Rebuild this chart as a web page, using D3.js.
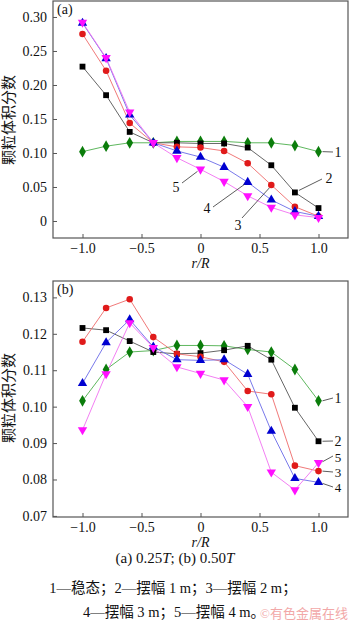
<!DOCTYPE html>
<html lang="zh">
<head>
<meta charset="utf-8">
<script src="https://d3js.org/d3.v7.min.js"></script>
<style>
  body { margin: 0; background: #fff; }
  text { font-family: "Liberation Serif", "Times New Roman", serif; fill: #111; }
  .cjk { font-family: "Liberation Serif", "Noto Sans CJK SC", serif; }
  .tick text { font-size: 14px; font-family: "Liberation Serif", serif; }
  .frame { fill: none; stroke: #555; stroke-width: 1.2; }
</style>
</head>
<body>
<div id="chart"></div>
<script>
// r/R positions
const rR = [-1.0, -0.8, -0.6, -0.4, -0.2, 0, 0.2, 0.4, 0.6, 0.8, 1.0];
const xTicks = [-1.0, -0.5, 0, 0.5, 1.0];

// panel (a) 0.25T
const a1 = [0.102, 0.110, 0.115, 0.115, 0.117, 0.117, 0.117, 0.115, 0.115, 0.111, 0.102];
const a2 = [0.227, 0.185, 0.131, 0.115, 0.115, 0.114, 0.114, 0.108, 0.082, 0.042, 0.019];
const a3 = [0.275, 0.221, 0.144, 0.115, 0.109, 0.108, 0.103, 0.085, 0.053, 0.021, 0.007];
const a4 = [0.291, 0.239, 0.156, 0.115, 0.103, 0.094, 0.079, 0.057, 0.031, 0.014, 0.007];
const a5 = [0.292, 0.240, 0.160, 0.115, 0.093, 0.076, 0.058, 0.037, 0.020, 0.009, 0.005];
const aTicks = [0, 0.05, 0.10, 0.15, 0.20, 0.25, 0.30];

// panel (b) 0.50T
const b1 = [0.1016, 0.1102, 0.1150, 0.1154, 0.1168, 0.1168, 0.1167, 0.1157, 0.1150, 0.1102, 0.1016];
const b2 = [0.1216, 0.1210, 0.1180, 0.1150, 0.1145, 0.1147, 0.1155, 0.1167, 0.1129, 0.0997, 0.0905];
const b3 = [0.1178, 0.1271, 0.1295, 0.1191, 0.1145, 0.1137, 0.1123, 0.1043, 0.1034, 0.0838, 0.0823];
const b4 = [0.1064, 0.1176, 0.1239, 0.1164, 0.1129, 0.1127, 0.1129, 0.1089, 0.0933, 0.0803, 0.0792];
const b5 = [0.0936, 0.1090, 0.1230, 0.1162, 0.1109, 0.1091, 0.1073, 0.1000, 0.0820, 0.0771, 0.0846];
const bTicks = [0.07, 0.08, 0.09, 0.10, 0.11, 0.12, 0.13];

const seriesNames = ["1", "2", "3", "4", "5"];

const W = 350, H = 623;
const svg = d3.select("#chart").append("svg")
  .attr("width", W).attr("height", H);

const styles = [
  { line: "#4caf4c", fill: "#0b7d0b", sym: d3.symbolDiamond, size: 40 },
  { line: "#555555", fill: "#000000", sym: d3.symbolSquare, size: 34 },
  { line: "#ee6a6a", fill: "#e01a1a", sym: d3.symbolCircle, size: 34 },
  { line: "#6a6ae8", fill: "#0000d0", sym: d3.symbolTriangle, size: 38 },
  { line: "#f070f0", fill: "#ff10ff", sym: d3.symbolTriangle, size: 38, rot: 180 }
];

function panel(opt) {
  const x = d3.scaleLinear().domain([-1.25, 1.25]).range([53, 348]);
  const y = d3.scaleLinear().domain(opt.yDomain).range([opt.bottom, opt.top]);
  const g = svg.append("g");

  // series lines
  opt.series.forEach((vals, i) => {
    const st = styles[i];
    const pts = rR.map((r, k) => [r, vals[k]]);
    g.append("path")
      .datum(pts)
      .attr("fill", "none")
      .attr("stroke", st.line)
      .attr("stroke-width", 0.9)
      .attr("d", d3.line().x(d => x(d[0])).y(d => y(d[1])));
  });
  // markers, 1..5 so later ones sit on top
  opt.series.forEach((vals, i) => {
    const st = styles[i];
    g.selectAll(null)
      .data(rR.map((r, k) => [r, vals[k]]))
      .enter().append("path")
      .attr("d", d3.symbol().type(st.sym).size(st.size))
      .attr("fill", st.fill)
      .attr("transform", d => `translate(${x(d[0])},${y(d[1])})` + (st.rot ? ` rotate(${st.rot})` : ""));
  });

  // frame
  g.append("rect").attr("class", "frame")
    .attr("x", 53).attr("y", opt.top)
    .attr("width", 295).attr("height", opt.bottom - opt.top);

  // axes, ticks pointing inwards
  const xAxis = g.append("g")
    .attr("transform", `translate(0,${opt.bottom})`)
    .call(d3.axisBottom(x).tickValues(xTicks).tickSizeInner(-4).tickSizeOuter(0)
      .tickPadding(5).tickFormat(d => d === 0 ? "0" : d3.format(".1f")(d).replace("-", "\u2212")));
  xAxis.attr("font-family", null).attr("font-size", null);
  xAxis.select(".domain").remove();
  xAxis.selectAll(".tick line").attr("stroke", "#555");

  const yAxis = g.append("g")
    .attr("transform", "translate(53,0)")
    .call(d3.axisLeft(y).tickValues(opt.yTicks).tickSizeInner(-4).tickSizeOuter(0)
      .tickPadding(6).tickFormat(opt.yFormat));
  yAxis.attr("font-family", null).attr("font-size", null);
  yAxis.select(".domain").remove();
  yAxis.selectAll(".tick line").attr("stroke", "#555");

  // r/R title
  g.append("text")
    .attr("x", x(0)).attr("y", opt.bottom + 30)
    .attr("text-anchor", "middle")
    .style("font-size", "14px").style("font-style", "italic")
    .text("r/R");

  // y title
  g.append("text").attr("class", "cjk")
    .attr("transform", `translate(14,${opt.yTitleY}) rotate(-90)`)
    .attr("text-anchor", "middle")
    .style("font-size", "15px")
    .text("颗粒体积分数");

  // panel letter
  g.append("text")
    .attr("x", 57).attr("y", opt.top + 13)
    .style("font-size", "14px")
    .text(opt.letter);

  // curve labels with leader lines
  opt.labels.forEach(l => {
    const px = x(l.r), py = y(opt.series[l.i][rR.indexOf(l.r)]);
    g.append("line")
      .attr("x1", px + l.dx1).attr("y1", py + l.dy1)
      .attr("x2", l.lx + l.ex).attr("y2", l.ly + l.ey)
      .attr("stroke", "#333").attr("stroke-width", 0.8);
    g.append("text")
      .attr("x", l.lx).attr("y", l.ly)
      .attr("text-anchor", "middle")
      .style("font-size", l.fs || "14px")
      .text(seriesNames[l.i]);
  });
}

panel({
  series: [a1, a2, a3, a4, a5],
  yDomain: [-0.025, 0.3235],
  top: 1, bottom: 238,
  yTicks: aTicks,
  yFormat: d => d === 0 ? "0" : d3.format(".2f")(d),
  yTitleY: 120,
  letter: "(a)",
  labels: [
    { i: 0, r: 1.0, dx1: 4, dy1: 0, lx: 338, ly: 157, ex: -5, ey: -5 },
    { i: 1, r: 0.8, dx1: 4, dy1: -2, lx: 329, ly: 183, ex: -7, ey: -4 },
    { i: 2, r: 0.6, dx1: -2, dy1: 3, lx: 238, ly: 230, ex: 4, ey: -12 },
    { i: 3, r: 0.4, dx1: -3, dy1: 2, lx: 207, ly: 213, ex: 6, ey: -6 },
    { i: 4, r: 0, dx1: -3, dy1: 2, lx: 176, ly: 192, ex: 6, ey: -9 }
  ]
});

panel({
  series: [b1, b2, b3, b4, b5],
  yDomain: [0.0697, 0.1345],
  top: 281, bottom: 517,
  yTicks: bTicks,
  yFormat: d3.format(".2f"),
  yTitleY: 398,
  letter: "(b)",
  labels: [
    { i: 0, r: 1.0, dx1: 4, dy1: 0, lx: 338, ly: 403, ex: -5, ey: -5 },
    { i: 1, r: 1.0, dx1: 4, dy1: 0, lx: 338, ly: 446, ex: -5, ey: -5 },
    { i: 4, r: 1.0, dx1: 4, dy1: -1, lx: 338, ly: 462, ex: -5, ey: -6, fs: "13px" },
    { i: 2, r: 1.0, dx1: 4, dy1: 0, lx: 338, ly: 477, ex: -5, ey: -5, fs: "13px" },
    { i: 3, r: 1.0, dx1: 4, dy1: 1, lx: 338, ly: 492, ex: -5, ey: -5, fs: "13px" }
  ]
});

// captions
const cap = svg.append("text").attr("x", 175).attr("y", 563)
  .attr("text-anchor", "middle").style("font-size", "15px");
cap.append("tspan").text("(a) 0.25");
cap.append("tspan").style("font-style", "italic").text("T");
cap.append("tspan").text("; (b) 0.50");
cap.append("tspan").style("font-style", "italic").text("T");

svg.append("text").attr("class", "cjk")
  .attr("x", 173).attr("y", 593).attr("text-anchor", "middle")
  .style("font-size", "14.5px")
  .text("1—稳态；2—摆幅 1 m；3—摆幅 2 m；");
svg.append("text").attr("class", "cjk")
  .attr("x", 83).attr("y", 617).attr("text-anchor", "start")
  .style("font-size", "14.5px")
  .text("4—摆幅 3 m；5—摆幅 4 m。");
svg.append("text").attr("class", "cjk")
  .attr("x", 348).attr("y", 618).attr("text-anchor", "end")
  .style("font-size", "13px").style("fill", "#f2a8a8")
  .text("©有色金属在线");
</script>
</body>
</html>
